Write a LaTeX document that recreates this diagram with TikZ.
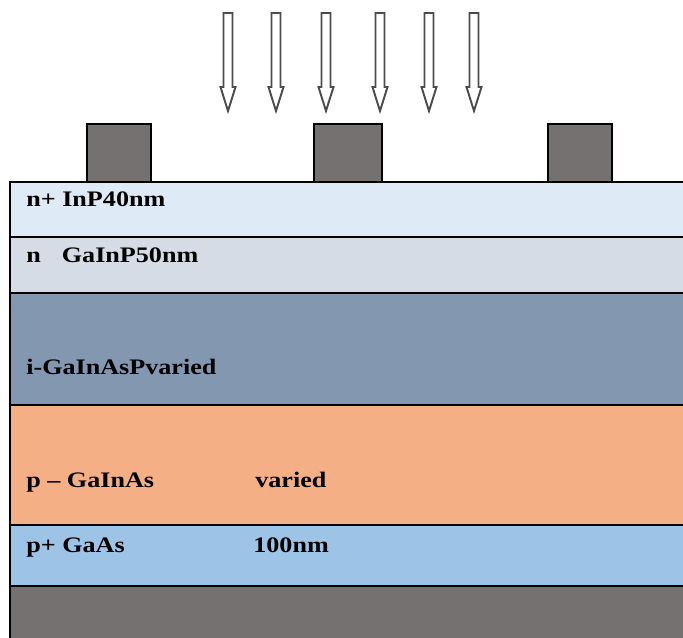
\documentclass[tikz,border=0pt]{standalone}
\usepackage{fontspec}
\setmainfont[FakeStretch=1.18]{Liberation Serif}
\usetikzlibrary{positioning}

\definecolor{nplus}{HTML}{DEEAF6}
\definecolor{nlayer}{HTML}{D6DCE5}
\definecolor{ilayer}{HTML}{8497B0}
\definecolor{player}{HTML}{F4B084}
\definecolor{pplus}{HTML}{9DC3E6}
\definecolor{metal}{HTML}{767171}

\tikzset{
	layer/.style={draw=black,line width=1.2pt},
	contact/.style={draw=black,line width=1.2pt,fill=metal},
	lbl/.style={anchor=base west,inner sep=0pt,font=\fontsize{12.6}{15}\selectfont\bfseries},
	light/.style={draw=black!70,line width=1.1pt,fill=white,line join=miter}
}

\begin{document}
\begin{tikzpicture}[x=0.02cm,y=-0.02cm]
	\useasboundingbox (0,0) rectangle (683,637);
	% layer stack
	\filldraw [layer,fill=nplus]  (10,182) rectangle (700,237);
	\filldraw [layer,fill=nlayer] (10,237) rectangle (700,293);
	\filldraw [layer,fill=ilayer] (10,293) rectangle (700,405);
	\filldraw [layer,fill=player] (10,405) rectangle (700,525);
	\filldraw [layer,fill=pplus]  (10,525) rectangle (700,586);
	\filldraw [layer,fill=metal]  (10,586) rectangle (700,660);
	% top contacts
	\filldraw [contact] (87,124) rectangle (151,182);
	\filldraw [contact] (314,124) rectangle (382,182);
	\filldraw [contact] (548,124) rectangle (612,182);
	% incoming light
	\foreach \x in {228,276,326,380,429,474}
		\draw [light] (\x-4.5,13) -- (\x+4.5,13) -- (\x+4.5,87) -- (\x+7.5,87) -- (\x,111) -- (\x-7.5,87) -- (\x-4.5,87) -- cycle;
	% labels
	\node (nplusl) [lbl] at (26,206) {n+ InP40nm};
	\node (nl) [lbl] at (26,262) {n\hspace{0.95em}GaInP50nm};
	\node (il) [lbl] at (26,374) {i-GaInAsPvaried};
	\node (pl) [lbl] at (26,487) {p -- GaInAs};
	\node (plw) [lbl] at (255,487) {varied};
	\node (ppl) [lbl] at (26,552) {p+ GaAs};
	\node (pplw) [lbl] at (253,552) {100nm};
\end{tikzpicture}
\end{document}
